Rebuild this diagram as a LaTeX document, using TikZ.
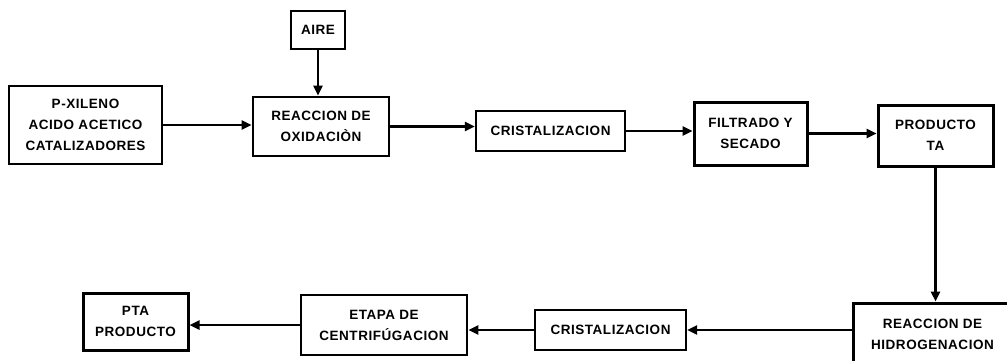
\documentclass[tikz,border=0pt]{standalone}
\usepackage{fontspec}
\setmainfont{Liberation Sans}[LetterSpace=4]
\usetikzlibrary{arrows.meta}

\begin{document}
\begin{tikzpicture}[x=1pt,y=-1pt,
  caja/.style={draw,line width=2.6pt,align=center,inner sep=0pt,font=\fontsize{13.5}{21}\selectfont\bfseries},
  flecha/.style={line width=2.4pt,-{Triangle[length=10pt,width=9pt]}}]
  \useasboundingbox (0,0) rectangle (1007,360);
  \clip (0,0) rectangle (1007,360);

  \node[caja,minimum width=153pt,minimum height=78pt] (feed) at (85.5,125) {P-XILENO\\ACIDO ACETICO\\CATALIZADORES};
  \node[caja,minimum width=54pt,minimum height=38pt] (aire) at (318,30) {AIRE};
  \node[caja,minimum width=136pt,minimum height=59pt] (oxid) at (321,126.5) {REACCION DE\\OXIDACIÒN};
  \node[caja,line width=2.2pt,minimum width=149pt,minimum height=40pt] (crist) at (550.5,131) {CRISTALIZACION};
  \node[caja,line width=3pt,minimum width=113pt,minimum height=63pt] (filtr) at (750.5,133.5) {FILTRADO Y\\SECADO};
  \node[caja,line width=3pt,minimum width=115pt,minimum height=61pt] (prodta) at (935.5,135.5) {PRODUCTO\\TA};

  \node[caja,line width=3pt,minimum width=159pt,minimum height=63pt] (hidro) at (932.5,334.5) {REACCION DE\\HIDROGENACION};
  \node[caja,line width=2.2pt,minimum width=151pt,minimum height=40pt] (crist2) at (610.5,330) {CRISTALIZACION};
  \node[caja,minimum width=166pt,minimum height=60pt] (etapa) at (384,325) {ETAPA DE\\CENTRIFÚGACION};
  \node[caja,line width=3pt,minimum width=105pt,minimum height=57pt] (pta) at (135.5,321.5) {PTA\\PRODUCTO};

  \draw[flecha] (feed.east) -- (feed.east -| oxid.west);
  \draw[flecha] (aire.south) -- (aire.south |- oxid.north);
  \draw[flecha] (oxid.east) -- (oxid.east -| crist.west);
  \draw[flecha] (crist.east) -- (crist.east -| filtr.west);
  \draw[flecha] (filtr.east) -- (filtr.east -| prodta.west);
  \draw[flecha] (prodta.south) -- (prodta.south |- hidro.north);
  \draw[flecha] (crist2.east -| hidro.west) -- (crist2.east);
  \draw[flecha] (crist2.west) -- (crist2.west -| etapa.east);
  \draw[flecha] (etapa.west) -- (etapa.west -| pta.east);
\end{tikzpicture}
\end{document}
